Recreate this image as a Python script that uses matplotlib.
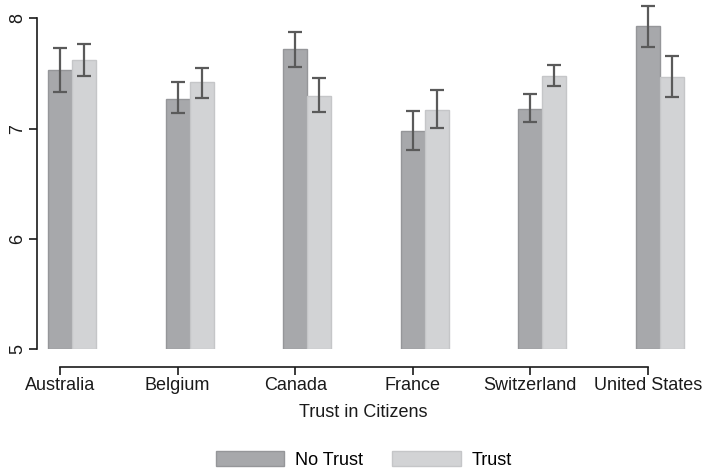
import matplotlib
matplotlib.use("Agg")
import matplotlib.pyplot as plt
from matplotlib.patches import Patch
import numpy as np

# Valores
paises = ["Australia", "Belgium", "Canada", "France", "Switzerland", "United States"]
no_trust = [7.53, 7.27, 7.72, 6.98, 7.18, 7.93]
no_trust_lo = [7.33, 7.14, 7.56, 6.81, 7.06, 7.74]
no_trust_hi = [7.73, 7.42, 7.88, 7.16, 7.31, 8.11]
trust = [7.62, 7.42, 7.30, 7.17, 7.48, 7.47]
trust_lo = [7.48, 7.28, 7.15, 7.01, 7.39, 7.29]
trust_hi = [7.77, 7.55, 7.46, 7.35, 7.58, 7.66]

plt.rcParams['font.family'] = ['Liberation Sans', 'DejaVu Sans']

col_dark = "#a7a8ab"
col_light = "#d2d3d5"
col_err = "#5a5a5a"
col_text = "#1a1a1a"

fig = plt.figure(figsize=(7.02, 4.72), dpi=100)
ax = fig.add_axes([0.0527, 0.26, 0.9288, 0.7358])

x = np.arange(len(paises))
w = 0.204
base = 5

ax.bar(x, np.array(no_trust) - base, bottom=base, width=w,
       color=col_dark, edgecolor="#959699", linewidth=1)
ax.bar(x + w, np.array(trust) - base, bottom=base, width=w,
       color=col_light, edgecolor="#c5c6c8", linewidth=1)

err_nt = [np.array(no_trust) - np.array(no_trust_lo), np.array(no_trust_hi) - np.array(no_trust)]
err_t = [np.array(trust) - np.array(trust_lo), np.array(trust_hi) - np.array(trust)]
ax.errorbar(x, no_trust, yerr=err_nt, fmt="none", ecolor=col_err,
            elinewidth=1.6, capsize=5, capthick=1.6)
ax.errorbar(x + w, trust, yerr=err_t, fmt="none", ecolor=col_err,
            elinewidth=1.6, capsize=5, capthick=1.6)

ax.set_xlim(-0.196, 5.35)
ax.set_ylim(5, 8.148)

ax.spines['top'].set_visible(False)
ax.spines['right'].set_visible(False)
ax.spines['left'].set_bounds(5, 8)
ax.spines['bottom'].set_position(('outward', 13))
ax.spines['bottom'].set_bounds(0, 5)
for s in ['left', 'bottom']:
    ax.spines[s].set_color(col_text)
    ax.spines[s].set_linewidth(1.2)

ax.set_yticks([5, 6, 7, 8])
ax.set_yticklabels(["5", "6", "7", "8"], rotation=90, va='center')
ax.set_xticks(x)
ax.set_xticklabels(paises)
ax.tick_params(axis='both', labelsize=13, colors=col_text, length=6, width=1.2)
ax.tick_params(axis='x', pad=1)
ax.tick_params(axis='y', pad=2)

ax.set_xlabel("Trust in Citizens", fontsize=13, color=col_text, labelpad=7)

handles = [Patch(facecolor=col_dark, edgecolor="#959699"),
           Patch(facecolor=col_light, edgecolor="#c5c6c8")]
fig.legend(handles, ["No Trust", "Trust"], loc='center', ncol=2,
           bbox_to_anchor=(0.518, 0.025), frameon=False, fontsize=13,
           handlelength=3.8, handleheight=0.85, handletextpad=0.6,
           columnspacing=1.6)

plt.savefig("out.png", dpi=100)
